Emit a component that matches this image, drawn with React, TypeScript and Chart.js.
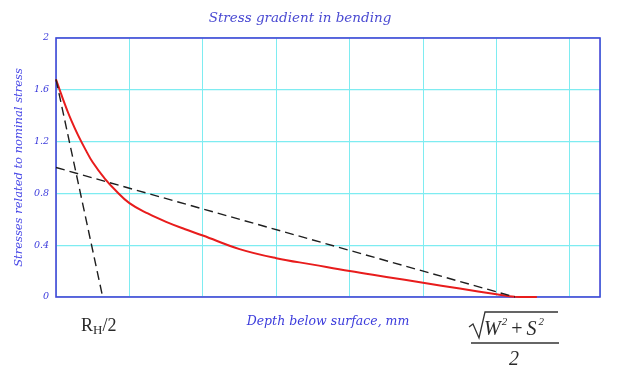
import React, { useEffect, useRef } from "react";
import { Chart, registerables } from "chart.js";

Chart.register(...registerables);

// Data
const depth = [0, 0.05, 0.1, 0.15, 0.2, 0.3, 0.4, 0.5, 0.67, 0.8, 1, 1.25, 1.5, 1.75, 2, 2.5, 3, 3.5, 4, 4.5, 5, 5.5, 6, 6.25, 6.55];
const stress = [1.68, 1.6, 1.52, 1.445, 1.375, 1.25, 1.14, 1.04, 0.91, 0.83, 0.725, 0.645, 0.58, 0.525, 0.475, 0.37, 0.3, 0.25, 0.2, 0.155, 0.11, 0.065, 0.022, 0.002, 0];
const steepX = [0, 0.636];
const steepY = [1.68, 0];
const linearX = [0, 6.25];
const linearY = [1.0, 0];
const xGridTicks = [0, 1, 2, 3, 4, 5, 6, 7, 7.41];
const yGridTicks = [0, 0.4, 0.8, 1.2, 1.6, 2];

const BLUE = "#3b3bdc";
const GRID = "#7eecf1";

const framePlugin = {
  id: "frame",
  beforeDatasetsDraw(chart: any) {
    const { ctx, chartArea: a } = chart;
    ctx.save();
    ctx.strokeStyle = "#4646d6";
    ctx.lineWidth = 1.6;
    ctx.strokeRect(a.left, a.top, a.right - a.left, a.bottom - a.top);
    ctx.restore();
  },
  afterDraw(chart: any) {
    const { ctx } = chart;
    ctx.save();
    ctx.fillStyle = "#2a2a2a";
    ctx.textBaseline = "alphabetic";
    ctx.textAlign = "left";
    // R_H/2
    ctx.font = "18px 'Liberation Serif'";
    ctx.fillText("R", 81, 331);
    const w = ctx.measureText("R").width;
    ctx.font = "13px 'Liberation Serif'";
    ctx.fillText("H", 81 + w, 334);
    const w2 = ctx.measureText("H").width;
    ctx.font = "18px 'Liberation Serif'";
    ctx.fillText("/2", 81 + w + w2, 331);

    // sqrt(W^2 + S^2) / 2
    ctx.strokeStyle = "#333";
    ctx.lineWidth = 1.3;
    ctx.beginPath();
    ctx.moveTo(469, 327);
    ctx.lineTo(473, 324);
    ctx.lineTo(479, 338);
    ctx.lineTo(485, 312);
    ctx.lineTo(558, 312);
    ctx.stroke();
    let x = 484;
    const big = "italic 20px 'Liberation Serif'";
    const sup = "italic 11px 'Liberation Serif'";
    ctx.font = big;
    ctx.fillText("W", x, 335);
    x += ctx.measureText("W").width + 1;
    ctx.font = sup;
    ctx.fillText("2", x, 325);
    x += ctx.measureText("2").width + 4;
    ctx.font = "20px 'Liberation Serif'";
    ctx.fillText("+", x, 335);
    x += ctx.measureText("+").width + 4;
    ctx.font = big;
    ctx.fillText("S", x, 335);
    x += ctx.measureText("S").width + 2;
    ctx.font = sup;
    ctx.fillText("2", x, 325);
    ctx.lineWidth = 1.4;
    ctx.beginPath();
    ctx.moveTo(471, 343);
    ctx.lineTo(559, 343);
    ctx.stroke();
    ctx.font = big;
    ctx.textAlign = "center";
    ctx.fillText("2", 514, 365);
    ctx.restore();
  },
};

export default function App() {
  const ref = useRef<HTMLCanvasElement | null>(null);
  useEffect(() => {
    if (!ref.current) return;
    const chart = new Chart(ref.current, {
      type: "scatter",
      data: {
        datasets: [
          {
            label: "Linear",
            data: linearX.map((x, i) => ({ x, y: linearY[i] })),
            showLine: true,
            borderColor: "#1e1e1e",
            borderWidth: 1.4,
            borderDash: [9, 5],
            pointRadius: 0,
            clip: 4,
          },
          {
            label: "Steep",
            data: steepX.map((x, i) => ({ x, y: steepY[i] })),
            showLine: true,
            borderColor: "#1e1e1e",
            borderWidth: 1.4,
            borderDash: [9, 5],
            pointRadius: 0,
            clip: 4,
          },
          {
            label: "Stress",
            data: depth.map((x, i) => ({ x, y: stress[i] })),
            showLine: true,
            borderColor: "#e81c1c",
            borderWidth: 2,
            pointRadius: 0,
            tension: 0.4,
            clip: 4,
          },
        ],
      },
      options: {
        animation: false,
        responsive: false,
        maintainAspectRatio: false,
        layout: { padding: { left: 0, right: 42, top: 0, bottom: 0 } },
        plugins: {
          legend: { display: false },
          tooltip: { enabled: false },
          title: {
            display: true,
            text: "Stress gradient in bending",
            color: "#4a4ad2",
            font: { family: "'DejaVu Serif'", style: "italic", weight: "normal", size: 13.5, lineHeight: 1.2 },
            padding: { top: 10, bottom: 11.8 },
          },
        },
        scales: {
          x: {
            type: "linear",
            min: 0,
            max: 7.41,
            grid: { color: GRID, lineWidth: 1, drawTicks: false },
            border: { display: false },
            afterBuildTicks: (s: any) => {
              s.ticks = xGridTicks.map((v) => ({ value: v }));
            },
            ticks: { display: false },
            title: {
              display: true,
              text: "Depth below surface, mm",
              color: BLUE,
              font: { family: "'DejaVu Serif'", style: "italic", size: 12.5, lineHeight: 1.2 },
              padding: { top: 0, bottom: 42.5 },
            },
            afterFit: (s: any) => {
              s.height = 75;
            },
          },
          y: {
            type: "linear",
            min: 0,
            max: 2,
            grid: { color: () => GRID, lineWidth: 1.2, drawTicks: false },
            border: { display: false },
            afterBuildTicks: (s: any) => {
              s.ticks = yGridTicks.map((v) => ({ value: v }));
            },
            ticks: {
              padding: 7,
              color: BLUE,
              font: { family: "'DejaVu Serif'", style: "italic", size: 9.5 },
              callback: (v: any) => String(Math.round(Number(v) * 10) / 10),
            },
            title: {
              display: true,
              text: "Stresses related to nominal stress",
              color: "#4646e6",
              font: { family: "'DejaVu Serif'", style: "italic", size: 11.5, lineHeight: 1.2 },
              padding: { top: 12, bottom: 0 },
            },
            afterFit: (s: any) => {
              s.width = 56;
            },
          },
        },
      },
      plugins: [framePlugin],
    });
    return () => chart.destroy();
  }, []);
  return (
    <div style={{ position: "fixed", left: 0, top: 0, width: 642, height: 372, background: "#fff" }}>
      <canvas ref={ref} width={642} height={372} style={{ width: 642, height: 372 }} />
    </div>
  );
}
